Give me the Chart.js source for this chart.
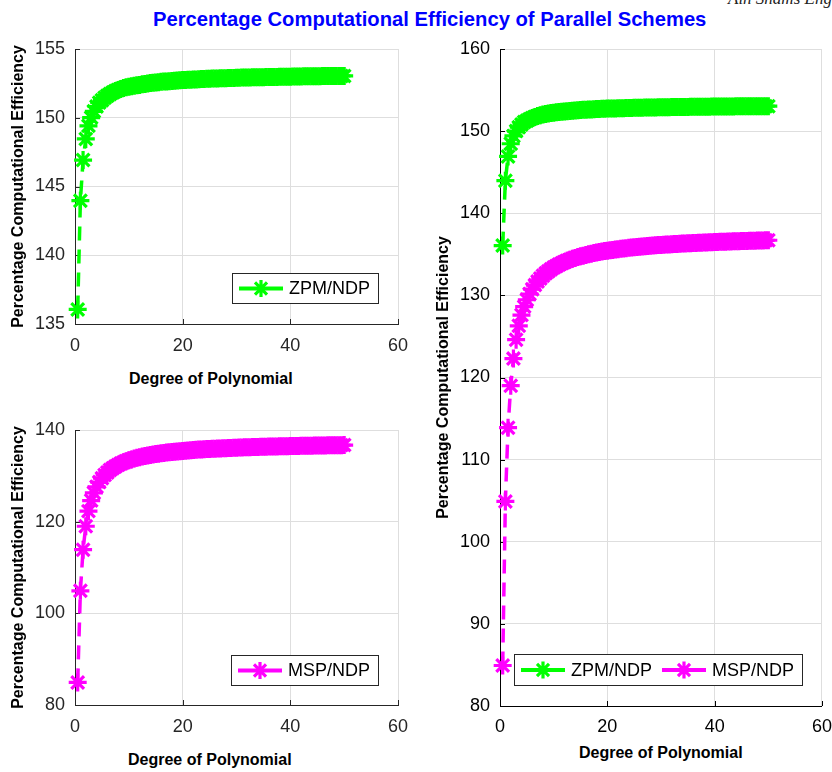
<!DOCTYPE html>
<html>
<head>
<meta charset="utf-8">
<script src="https://cdn.jsdelivr.net/npm/chart.js@4.4.1/dist/chart.umd.min.js"></script>
<style>
html,body{margin:0;padding:0;background:#fff;}
body{width:832px;height:772px;overflow:hidden;position:relative;font-family:"Liberation Sans",Arial,Helvetica,sans-serif;}
canvas{position:absolute;}
.t{position:absolute;white-space:nowrap;transform-origin:center center;}
</style>
</head>
<body>
<div id="journal" class="t" style="left:728px;top:-10px;font:italic 17px/17px 'Liberation Serif','DejaVu Serif',serif;color:#222;">Ain Shams Engineering Journal</div>
<div id="mainTitle" class="t" style="top:8px;font:bold 21px/21px 'Liberation Sans',Arial,sans-serif;color:#0000ff;">Percentage Computational Efficiency of Parallel Schemes</div>
<div id="xt1" class="t" style="top:371px;font:bold 16px/16px 'Liberation Sans',Arial,sans-serif;color:#000;">Degree of Polynomial</div>
<div id="xt2" class="t" style="top:752px;font:bold 16px/16px 'Liberation Sans',Arial,sans-serif;color:#000;">Degree of Polynomial</div>
<div id="xt3" class="t" style="top:745px;font:bold 16px/16px 'Liberation Sans',Arial,sans-serif;color:#000;">Degree of Polynomial</div>

<canvas id="c1" width="420" height="364" style="left:0px;top:0px;"></canvas>
<canvas id="c2" width="420" height="364" style="left:0px;top:381px;"></canvas>
<canvas id="c3" width="422" height="746" style="left:420px;top:0px;"></canvas>

<script>
// ---------------- data ----------------
const degree = [
  0.5,1,1.5,2,2.5,3,3.5,4,4.5,5,
  5.5,6,6.5,7,7.5,8,8.5,9,9.5,10,
  10.5,11,11.5,12,12.5,13,13.5,14,14.5,15,
  15.5,16,16.5,17,17.5,18,18.5,19,19.5,20,
  20.5,21,21.5,22,22.5,23,23.5,24,24.5,25,
  25.5,26,26.5,27,27.5,28,28.5,29,29.5,30,
  30.5,31,31.5,32,32.5,33,33.5,34,34.5,35,
  35.5,36,36.5,37,37.5,38,38.5,39,39.5,40,
  40.5,41,41.5,42,42.5,43,43.5,44,44.5,45,
  45.5,46,46.5,47,47.5,48,48.5,49,49.5,50
];
const zpmNdp = [
  136.06,143.97,146.92,148.46,149.41,150.01,150.47,150.82,151.10,151.27,
  151.45,151.60,151.73,151.84,151.94,152.02,152.10,152.16,152.22,152.25,
  152.29,152.33,152.36,152.39,152.43,152.46,152.49,152.52,152.54,152.56,
  152.59,152.61,152.63,152.64,152.66,152.68,152.69,152.71,152.72,152.74,
  152.75,152.76,152.77,152.78,152.79,152.80,152.81,152.82,152.83,152.84,
  152.85,152.85,152.86,152.87,152.88,152.88,152.89,152.89,152.90,152.91,
  152.91,152.92,152.92,152.93,152.93,152.94,152.94,152.95,152.95,152.95,
  152.96,152.96,152.97,152.97,152.97,152.98,152.98,152.98,152.99,152.99,
  153.00,153.00,153.00,153.00,153.01,153.01,153.01,153.02,153.02,153.02,
  153.02,153.03,153.03,153.03,153.03,153.04,153.04,153.04,153.04,153.04
];
const mspNdp = [
  84.93,104.91,113.89,119.00,122.30,124.60,126.29,127.60,128.63,129.47,
  130.17,130.75,131.25,131.68,132.06,132.39,132.68,132.94,133.18,133.39,
  133.58,133.76,133.92,134.07,134.21,134.33,134.45,134.56,134.66,134.75,
  134.84,134.92,135.00,135.08,135.15,135.21,135.27,135.33,135.39,135.44,
  135.49,135.54,135.59,135.63,135.68,135.72,135.75,135.79,135.83,135.86,
  135.89,135.93,135.96,135.99,136.01,136.04,136.07,136.09,136.12,136.14,
  136.16,136.19,136.21,136.23,136.25,136.27,136.29,136.31,136.33,136.34,
  136.36,136.38,136.39,136.41,136.42,136.44,136.45,136.47,136.48,136.49,
  136.51,136.52,136.53,136.54,136.56,136.57,136.58,136.59,136.60,136.61,
  136.62,136.63,136.64,136.65,136.66,136.67,136.68,136.69,136.70,136.71
];
const seriesNames = ['ZPM/NDP', 'MSP/NDP'];
const xTicks = [0, 20, 40, 60];
const yTicksZpm = [135, 140, 145, 150, 155];
const yTicksMsp = [80, 100, 120, 140];
const yTicksBoth = [80, 90, 100, 110, 120, 130, 140, 150, 160];
const xTitle = 'Degree of Polynomial';
const yTitle = 'Percentage Computational Efficiency';

// ---------------- styling ----------------
const GREEN = '#00ff00', MAGENTA = '#ff00ff';
const FONT = '"Liberation Sans", Arial, Helvetica, sans-serif';
Chart.defaults.font.family = FONT;

function pts(ys){ return degree.map((x,i)=>({x:x, y:ys[i]})); }

function ds(label, ys, color, order){
  return {
    label: label, data: pts(ys), order: order,
    borderColor: color, backgroundColor: color,
    borderWidth: 3.5, borderDash: [14, 9],
    pointStyle: 'star', pointRadius: 9, pointHoverRadius: 9,
    pointBorderWidth: 3.2, pointBorderColor: color, pointBackgroundColor: color,
    tension: 0, clip: false, fill: false
  };
}

const inTicks = {
  id: 'inTicks',
  beforeDatasetsDraw(chart, args, opts){
    const {ctx, chartArea, scales} = chart;
    ctx.save();
    ctx.strokeStyle = opts.color || '#262626';
    ctx.lineWidth = 1;
    ctx.beginPath();
    scales.y.ticks.forEach(t=>{
      const y = Math.round(scales.y.getPixelForValue(t.value)) + 0.5;
      ctx.moveTo(chartArea.left, y); ctx.lineTo(chartArea.left + 5, y);
    });
    scales.x.ticks.forEach(t=>{
      const x = Math.round(scales.x.getPixelForValue(t.value)) + 0.5;
      ctx.moveTo(x, chartArea.bottom); ctx.lineTo(x, chartArea.bottom - 5);
    });
    ctx.stroke();
    ctx.restore();
  }
};

function drawStar(ctx, x, y, r){
  const d = r * Math.SQRT1_2;
  ctx.beginPath();
  ctx.moveTo(x - r, y); ctx.lineTo(x + r, y);
  ctx.moveTo(x, y - r); ctx.lineTo(x, y + r);
  ctx.moveTo(x - d, y - d); ctx.lineTo(x + d, y + d);
  ctx.moveTo(x - d, y + d); ctx.lineTo(x + d, y - d);
  ctx.stroke();
}

const boxLegend = {
  id: 'boxLegend',
  afterDraw(chart, args, opts){
    if (!opts.show) return;
    const {ctx, chartArea} = chart;
    const items = chart.data.datasets.slice().sort((a,b)=>seriesNames.indexOf(a.label)-seriesNames.indexOf(b.label));
    ctx.save();
    ctx.font = '18px ' + FONT;
    let w = 7;
    items.forEach((it,i)=>{ w += 50 + ctx.measureText(it.label).width + (i < items.length-1 ? 10 : 8); });
    w = Math.round(w);
    const h = opts.height;
    const x0 = Math.round(chartArea.right - opts.right - w);
    const y0 = Math.round(chartArea.bottom - opts.bottom - h);
    ctx.fillStyle = '#ffffff';
    ctx.fillRect(x0, y0, w, h);
    ctx.strokeStyle = '#262626'; ctx.lineWidth = 1; ctx.setLineDash([]);
    ctx.strokeRect(x0 + 0.5, y0 + 0.5, w, h);
    let cx = x0 + 7; const cy = y0 + h/2 + 0.5;
    items.forEach(it=>{
      ctx.strokeStyle = it.borderColor; ctx.lineWidth = 4; ctx.setLineDash([]);
      ctx.beginPath(); ctx.moveTo(cx, cy); ctx.lineTo(cx + 44, cy); ctx.stroke();
      ctx.lineWidth = 3.2;
      drawStar(ctx, cx + 22, cy, 8.5);
      ctx.fillStyle = '#000'; ctx.textBaseline = 'middle'; ctx.textAlign = 'left';
      ctx.fillText(it.label, cx + 50, cy + 1);
      cx += 50 + ctx.measureText(it.label).width + 10;
    });
    ctx.restore();
  }
};

function makeChart(id, datasets, yt, pad, yWidth, xPad, axisColor, legendOpts){
  return new Chart(document.getElementById(id), {
    type: 'line',
    data: { datasets: datasets },
    plugins: [inTicks, boxLegend],
    options: {
      responsive: false, animation: false, devicePixelRatio: 1,
      layout: { padding: pad },
      plugins: {
        legend: { display: false }, tooltip: { enabled: false }, title: { display: false },
        inTicks: { color: axisColor },
        boxLegend: legendOpts
      },
      scales: {
        x: {
          type: 'linear', min: xTicks[0], max: xTicks[xTicks.length-1],
          afterBuildTicks: s => { s.ticks = xTicks.map(v=>({value:v})); },
          afterFit: s => { s.height = 40; },
          grid: { color: '#dedede', lineWidth: 1, drawTicks: false },
          border: { display: true, color: axisColor, width: 1 },
          ticks: { color: axisColor, font: { size: 18 }, padding: xPad, maxRotation: 0 },
          title: { display: false }
        },
        y: {
          type: 'linear', min: yt[0], max: yt[yt.length-1],
          afterBuildTicks: s => { s.ticks = yt.map(v=>({value:v})); },
          afterFit: s => { s.width = yWidth; },
          grid: { color: '#dedede', lineWidth: 1, drawTicks: false },
          border: { display: true, color: axisColor, width: 1 },
          ticks: { color: axisColor, font: { size: 18 }, padding: 10 },
          title: { display: true, text: yTitle, color: '#000', font: { size: 16, weight: 'bold' }, padding: { top: 0, bottom: 0 } }
        }
      }
    }
  });
}

makeChart('c1', [ds(seriesNames[0], zpmNdp, GREEN, 1)], yTicksZpm,
  { left: 9, top: 49, right: 22, bottom: 0 }, 66, 11, '#262626',
  { show: true, height: 30, right: 20, bottom: 21 });
makeChart('c2', [ds(seriesNames[1], mspNdp, MAGENTA, 1)], yTicksMsp,
  { left: 9, top: 49, right: 22, bottom: 0 }, 66, 11, '#262626',
  { show: true, height: 30, right: 20, bottom: 20 });
makeChart('c3', [ds(seriesNames[0], zpmNdp, GREEN, 2), ds(seriesNames[1], mspNdp, MAGENTA, 1)], yTicksBoth,
  { left: 14, top: 49, right: 20, bottom: 0 }, 66, 10, '#000000',
  { show: true, height: 31, right: 20, bottom: 21 });

// ---------------- html titles ----------------
function placeCenter(id, cx, targetW){
  const el = document.getElementById(id);
  const w = el.offsetWidth;
  el.style.left = (cx - w/2) + 'px';
  if (targetW) el.style.transform = 'scaleX(' + (targetW / w) + ')';
}
placeCenter('mainTitle', 429.5, 553);
placeCenter('xt1', 211);
placeCenter('xt2', 210);
placeCenter('xt3', 661);
</script>
</body>
</html>
